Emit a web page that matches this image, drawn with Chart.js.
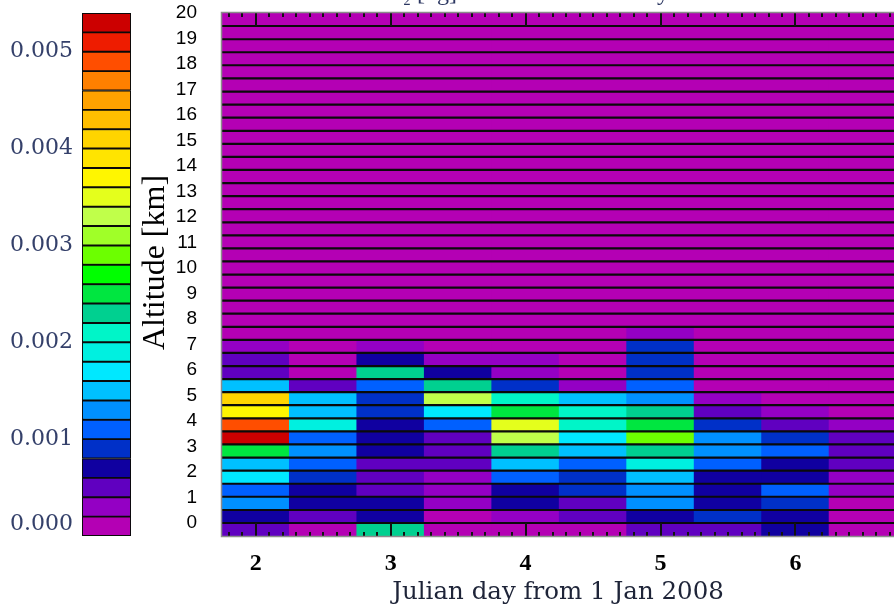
<!DOCTYPE html>
<html>
<head>
<meta charset="utf-8">
<script src="https://cdn.jsdelivr.net/npm/chart.js@4.4.1/dist/chart.umd.min.js"></script>
<style>
  html, body { margin: 0; padding: 0; background: #fff; overflow: hidden; }
  #wrap { position: relative; width: 894px; height: 607px; }
  #heat, #scale { position: absolute; left: 0; top: 0; }
</style>
</head>
<body>
<div id="wrap">
  <canvas id="heat" width="894" height="607"></canvas>
  <canvas id="scale" width="140" height="607"></canvas>
</div>
<script>
// column centres (Julian day) and altitude bin edges (km), 40 bins
const days = [2, 2.5, 3, 3.5, 4, 4.5, 5, 5.5, 6, 6.5];
const altEdges = [-0.51, 0, 0.51, 1.03, 1.54, 2.05, 2.56, 3.08, 3.59, 4.10, 4.62, 5.13, 5.64,
  6.15, 6.67, 7.18, 7.69, 8.21, 8.72, 9.23, 9.74, 10.26, 10.77, 11.28, 11.79, 12.31, 12.82,
  13.33, 13.85, 14.36, 14.87, 15.38, 15.90, 16.41, 16.92, 17.44, 17.95, 18.46, 18.97, 19.49, 20];

// values per column, bottom bin first
const day2_0 = [0.0005, 0.0007, 0.0013, 0.0011, 0.0017, 0.0015, 0.0025, 0.0053, 0.0049, 0.0037, 0.0041, 0.0015, 0.0005, 0.0005, 0.0003, 0.0001,
  0, 0, 0, 0, 0, 0, 0, 0, 0, 0, 0, 0, 0, 0, 0, 0, 0, 0, 0, 0, 0, 0, 0, 0];
const day2_5 = [0.0001, 0.0005, 0.0007, 0.0007, 0.0009, 0.0011, 0.0013, 0.0011, 0.0019, 0.0015, 0.0015, 0.0005, 0.0001, 0.0001, 0.0001, 0.0001,
  0, 0, 0, 0, 0, 0, 0, 0, 0, 0, 0, 0, 0, 0, 0, 0, 0, 0, 0, 0, 0, 0, 0, 0];
const day3_0 = [0.0023, 0.0007, 0.0007, 0.0005, 0.0005, 0.0005, 0.0007, 0.0007, 0.0007, 0.0009, 0.0009, 0.0011, 0.0023, 0.0007, 0.0003, 0.0001,
  0, 0, 0, 0, 0, 0, 0, 0, 0, 0, 0, 0, 0, 0, 0, 0, 0, 0, 0, 0, 0, 0, 0, 0];
const day3_5 = [0.0001, 0.0001, 0.0003, 0.0003, 0.0003, 0.0005, 0.0005, 0.0005, 0.0011, 0.0017, 0.0033, 0.0023, 0.0007, 0.0003, 0.0001, 0.0001,
  0, 0, 0, 0, 0, 0, 0, 0, 0, 0, 0, 0, 0, 0, 0, 0, 0, 0, 0, 0, 0, 0, 0, 0];
const day4_0 = [0.0001, 0.0003, 0.0007, 0.0007, 0.0011, 0.0015, 0.0023, 0.0033, 0.0035, 0.0025, 0.0021, 0.0009, 0.0003, 0.0003, 0.0001, 0.0001,
  0, 0, 0, 0, 0, 0, 0, 0, 0, 0, 0, 0, 0, 0, 0, 0, 0, 0, 0, 0, 0, 0, 0, 0];
const day4_5 = [0.0001, 0.0005, 0.0005, 0.0009, 0.0009, 0.0011, 0.0015, 0.0017, 0.0021, 0.0021, 0.0015, 0.0003, 0.0001, 0.0001, 0.0001, 0.0001,
  0, 0, 0, 0, 0, 0, 0, 0, 0, 0, 0, 0, 0, 0, 0, 0, 0, 0, 0, 0, 0, 0, 0, 0];
const day5_0 = [0.0005, 0.0007, 0.0013, 0.0013, 0.0015, 0.0019, 0.0023, 0.0029, 0.0025, 0.0023, 0.0013, 0.0011, 0.0009, 0.0009, 0.0009, 0.0003,
  0, 0, 0, 0, 0, 0, 0, 0, 0, 0, 0, 0, 0, 0, 0, 0, 0, 0, 0, 0, 0, 0, 0, 0];
const day5_5 = [0.0005, 0.0009, 0.0007, 0.0007, 0.0007, 0.0011, 0.0013, 0.0013, 0.0009, 0.0005, 0.0003, 0.0001, 0.0001, 0.0001, 0.0001, 0.0001,
  0, 0, 0, 0, 0, 0, 0, 0, 0, 0, 0, 0, 0, 0, 0, 0, 0, 0, 0, 0, 0, 0, 0, 0];
const day6_0 = [0.0007, 0.0007, 0.0009, 0.0011, 0.0007, 0.0007, 0.0011, 0.0009, 0.0005, 0.0003, 0.0001, 0.0001, 0.0001, 0.0001, 0.0001, 0.0001,
  0, 0, 0, 0, 0, 0, 0, 0, 0, 0, 0, 0, 0, 0, 0, 0, 0, 0, 0, 0, 0, 0, 0, 0];
const day6_5 = [0.0001, 0.0001, 0.0001, 0.0003, 0.0003, 0.0005, 0.0005, 0.0005, 0.0003, 0.0001, 0.0001, 0.0001, 0.0001, 0.0001, 0.0001, 0.0001,
  0, 0, 0, 0, 0, 0, 0, 0, 0, 0, 0, 0, 0, 0, 0, 0, 0, 0, 0, 0, 0, 0, 0, 0];
const columns = [day2_0, day2_5, day3_0, day3_5, day4_0, day4_5, day5_0, day5_5, day6_0, day6_5];

// colour scale, lowest level first
const levelStep = 0.0002;
const levelColors = ['#b400b4', '#9400c4', '#6000c0', '#1000a0', '#0030c8', '#0060ff', '#0090ff',
  '#00c0ff', '#00e8ff', '#00f0e0', '#00f5c8', '#00d090', '#00e640', '#00ff00', '#6cff00',
  '#a0ff28', '#c0ff4a', '#e4ff1c', '#fff600', '#ffe400', '#ffd400', '#ffbe00', '#ffa200',
  '#ff8000', '#ff4e00', '#ee1c00', '#cc0000'];
const colorbarTicks = [0.00012, 0.001, 0.002, 0.003, 0.004, 0.005];
const titleText = 'SO\u2082 [kg] concentration density';

function colourFor(v) {
    const level = Math.min(levelColors.length - 1, Math.floor(v / levelStep));
    return levelColors[level];
}

// scales keep their boxes exactly; no extra room for overhanging labels
function noOverhang(s) {
    s.paddingTop = 0;
    s.paddingBottom = 0;
    s.paddingLeft = 0;
    s.paddingRight = 0;
}

// one dataset per altitude bin, a floating bar per day
const rowDatasets = altEdges.slice(0, -1).map((alt, k) => ({
    data: days.map(d => ({ x: d, y: [alt, altEdges[k + 1]] })),
    backgroundColor: columns.map(col => colourFor(col[k])),
    borderWidth: 0,
    inflateAmount: 0.5,
    grouped: false,
    categoryPercentage: 1,
    barPercentage: 1
}));

// black lines between altitude bins, inward ticks, grey frame
const binLines = {
    id: 'binLines',
    afterDatasetsDraw(chart) {
        const { ctx, chartArea: { left, right, top, bottom }, scales: { x, y } } = chart;
        ctx.save();
        ctx.strokeStyle = '#0a0a0a';
        ctx.lineWidth = 2.2;
        altEdges.slice(1, -1).forEach(v => {
            const py = y.getPixelForValue(v);
            ctx.beginPath();
            ctx.moveTo(left, py);
            ctx.lineTo(right, py);
            ctx.stroke();
        });

        const rowH = y.getPixelForValue(altEdges[0]) - y.getPixelForValue(altEdges[1]);
        ctx.strokeStyle = '#111';
        ctx.lineWidth = 2;
        for (let t = Math.ceil(x.min * 10); t <= Math.floor(x.max * 10); t++) {
            const px = Math.round(x.getPixelForValue(t / 10));
            const len = t % 10 === 0 ? rowH : 4;
            ctx.beginPath();
            ctx.moveTo(px, top);
            ctx.lineTo(px, top + len);
            ctx.moveTo(px, bottom);
            ctx.lineTo(px, bottom - len);
            ctx.stroke();
        }

        ctx.strokeStyle = '#8c8c8c';
        ctx.lineWidth = 1.5;
        ctx.beginPath();
        ctx.moveTo(right + 2, top - 0.5);
        ctx.lineTo(left - 0.5, top - 0.5);
        ctx.lineTo(left - 0.5, bottom + 0.5);
        ctx.lineTo(right + 2, bottom + 0.5);
        ctx.stroke();
        ctx.restore();
    }
};

// title sits mostly above the visible area
const cutTitle = {
    id: 'cutTitle',
    afterDraw(chart) {
        const { ctx } = chart;
        ctx.save();
        ctx.font = '24px "Liberation Serif"';
        ctx.fillStyle = '#2a3560';
        ctx.textBaseline = 'alphabetic';
        ctx.fillText(titleText, 372, 0);
        ctx.restore();
    }
};

new Chart(document.getElementById('heat'), {
    type: 'bar',
    data: { datasets: rowDatasets },
    options: {
        responsive: false,
        animation: false,
        layout: { padding: { left: 135, top: 13, right: 0, bottom: 0 } },
        plugins: { legend: { display: false }, tooltip: { enabled: false } },
        scales: {
            x: {
                type: 'linear',
                min: 1.75,
                max: 6.73,
                offset: false,
                grid: { display: false, drawTicks: false, offset: false },
                border: { display: false },
                ticks: {
                    stepSize: 1,
                    includeBounds: false,
                    padding: 13,
                    color: '#000',
                    font: { family: 'Liberation Serif', size: 24, weight: 'bold' }
                },
                title: {
                    display: true,
                    text: 'Julian day from 1 Jan 2008',
                    color: '#1e2438',
                    font: { family: 'DejaVu Serif', size: 24.5 },
                    padding: { top: 0, bottom: 0 }
                },
                afterFit: s => { s.height = 71; noOverhang(s); }
            },
            y: {
                type: 'linear',
                min: altEdges[0],
                max: altEdges[altEdges.length - 1],
                grid: { display: false, drawTicks: false },
                border: { display: false },
                ticks: {
                    stepSize: 1,
                    includeBounds: false,
                    autoSkip: false,
                    padding: 25,
                    color: '#000',
                    font: { family: 'Liberation Sans', size: 19 }
                },
                title: {
                    display: true,
                    text: '   Altitude [km]',
                    color: '#000',
                    font: { family: 'Liberation Serif', size: 32, lineHeight: 1 },
                    padding: { top: 5, bottom: 0 }
                },
                afterFit: s => { s.width = 87; noOverhang(s); }
            }
        }
    },
    plugins: [binLines, cutTitle]
});

// colour bar on the left
new Chart(document.getElementById('scale'), {
    type: 'bar',
    data: {
        labels: [''],
        datasets: levelColors.map(c => ({
            data: [levelStep],
            backgroundColor: c,
            borderColor: '#0a0a0a',
            borderWidth: 1.3,
            borderSkipped: false,
            categoryPercentage: 1,
            barPercentage: 1
        }))
    },
    options: {
        responsive: false,
        animation: false,
        layout: { padding: { left: 0, top: 13, right: 9, bottom: 71 } },
        plugins: { legend: { display: false }, tooltip: { enabled: false } },
        scales: {
            x: { stacked: true, display: false },
            y: {
                stacked: true,
                min: 0,
                max: levelStep * levelColors.length,
                grid: { display: false, drawTicks: false },
                border: { display: false },
                afterBuildTicks: s => { s.ticks = colorbarTicks.map(v => ({ value: v })); },
                ticks: {
                    padding: 9,
                    color: '#34406a',
                    font: { family: 'DejaVu Serif', size: 22 },
                    callback: v => v.toFixed(3)
                },
                afterFit: s => { s.width = 82; noOverhang(s); }
            }
        }
    }
});
</script>
</body>
</html>
